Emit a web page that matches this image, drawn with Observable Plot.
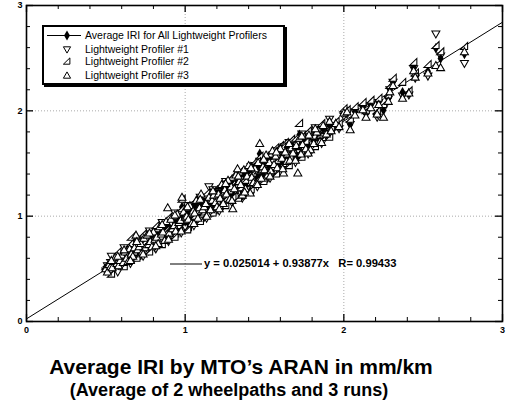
<!DOCTYPE html>
<html><head><meta charset="utf-8">
<script src="https://cdn.jsdelivr.net/npm/d3@7"></script>
<script src="https://cdn.jsdelivr.net/npm/@observablehq/plot@0.6"></script>
<style>
body{margin:0;background:#fff;font-family:Arial,"Liberation Sans",sans-serif;}
#wrap{position:relative;width:508px;height:408px;overflow:hidden;}
#chart{position:absolute;left:0;top:0;}
#legend{position:absolute;left:42px;top:25px;width:239px;height:56px;border:2px solid #000;box-shadow:2px 2px 0 #000;background:#fff;}
.row{position:absolute;left:0;height:13px;font-size:10.5px;line-height:13px;white-space:nowrap;}
.row svg{position:absolute;left:0;top:0;}
.row span{position:absolute;left:41px;top:0;}
#eq{position:absolute;left:170px;top:257px;font-size:11.2px;font-weight:bold;white-space:nowrap;}
#title{position:absolute;left:0;width:482px;top:355px;text-align:center;font-weight:bold;font-size:21px;white-space:nowrap;}
#subtitle{position:absolute;left:0;width:458px;top:380px;text-align:center;font-weight:bold;font-size:18px;white-space:nowrap;}
</style></head><body>
<div id="wrap">
<div id="chart"></div>
<div id="legend"></div>
<div id="eq"></div>
<div id="title"></div>
<div id="subtitle"></div>
</div>
<script>
// ARAN IRI (x) and the three lightweight profilers (y), mm/km
const aran = [0.50,0.51,0.52,0.53,0.54,0.55,0.56,0.57,0.58,0.59,0.60,0.61,0.62,0.63,0.64,0.65,0.66,0.67,0.68,0.69,
0.70,0.71,0.72,0.73,0.74,0.75,0.76,0.77,0.78,0.79,0.80,0.81,0.82,0.83,0.84,0.85,0.86,0.87,0.88,0.89,
0.90,0.91,0.92,0.93,0.94,0.95,0.96,0.97,0.98,0.99,1.00,1.01,1.02,1.03,1.04,1.05,1.06,1.07,1.08,1.09,
1.10,1.11,1.12,1.13,1.14,1.15,1.16,1.17,1.18,1.19,1.20,1.21,1.22,1.23,1.24,1.25,1.26,1.27,1.28,1.29,
1.30,1.31,1.32,1.33,1.34,1.35,1.36,1.37,1.38,1.39,1.40,1.41,1.42,1.43,1.44,1.45,1.46,1.47,1.48,1.49,
1.50,1.51,1.52,1.53,1.54,1.55,1.56,1.57,1.58,1.60,1.61,1.62,1.63,1.64,1.65,1.66,1.67,1.68,1.70,1.71,
1.72,1.73,1.74,1.76,1.78,1.79,1.81,1.83,1.85,1.87,1.89,1.92,1.95,1.97,2.00,2.02,2.04,2.07,2.12,2.14,
2.17,2.21,2.22,2.25,2.28,2.29,2.31,2.37,2.41,2.44,2.45,2.53,2.58,2.61,2.76,
0.535,0.575,0.615,0.655,0.695,0.735,0.775,0.815,0.855,0.895,0.935,0.975,1.015,1.055,1.095,1.135,1.175,1.215,
1.255,1.295,1.335,1.375,1.415,1.455,1.495,1.535,1.575,1.615,1.655,1.695,1.735,1.775,1.82,1.86,1.91];
const lp1 = [0.48,0.53,0.50,0.56,0.47,0.55,0.52,0.59,0.51,0.61,0.56,0.62,0.54,0.65,0.59,0.64,0.61,0.68,0.60,0.70,
0.66,0.73,0.63,0.76,0.69,0.72,0.78,0.67,0.81,0.74,0.79,0.70,0.84,0.77,0.86,0.75,0.88,0.80,0.91,0.82,
0.87,0.93,0.81,0.95,0.88,0.97,0.86,1.01,0.92,0.98,0.90,1.04,0.94,1.07,0.97,1.09,0.96,1.11,1.00,1.13,
1.03,1.10,0.99,1.16,1.05,1.28,1.08,1.19,1.10,1.22,1.06,1.24,1.13,1.26,1.15,1.29,1.12,1.31,1.19,1.33,
1.20,1.23,1.36,1.25,1.38,1.22,1.17,1.40,1.29,1.43,1.32,1.25,1.44,1.35,1.48,1.30,1.47,1.52,1.38,1.50,
1.41,1.54,1.36,1.56,1.45,1.58,1.42,1.61,1.48,1.62,1.51,1.55,1.66,1.54,1.60,1.50,1.69,1.58,1.65,1.62,
1.70,1.57,1.72,1.66,1.75,1.61,1.71,1.78,1.73,1.83,1.76,1.79,1.86,1.83,1.95,1.97,1.87,1.99,2.03,1.97,
2.05,1.94,2.08,2.02,2.11,2.20,2.27,2.14,2.15,2.40,2.31,2.33,2.73,2.52,2.45,
0.62,0.47,0.70,0.55,0.78,0.62,0.86,0.69,0.94,0.76,1.03,0.84,1.10,0.91,1.18,0.98,1.25,1.05,
1.33,1.13,1.40,1.20,1.47,1.28,1.55,1.36,1.62,1.43,1.70,1.51,1.78,1.59,1.84,1.69,1.92];
const lp2 = [0.52,0.55,0.49,0.58,0.53,0.60,0.56,0.54,0.57,0.64,0.59,0.58,0.61,0.68,0.63,0.60,0.80,0.71,0.66,0.73,
0.62,0.77,0.69,0.72,0.75,0.80,0.74,0.71,0.84,0.78,0.73,0.76,0.88,0.82,0.79,0.81,0.92,0.85,0.87,0.86,
0.94,0.89,0.85,1.00,0.83,0.93,0.91,1.05,1.16,0.95,0.96,1.08,0.89,1.02,1.03,1.13,1.00,1.06,1.05,1.17,
1.08,1.02,1.04,1.20,1.11,1.14,1.03,1.23,1.15,1.18,1.12,1.28,1.09,1.21,1.20,1.33,1.17,1.26,1.24,1.37,
1.18,1.29,1.31,1.30,1.42,1.27,1.22,1.35,1.34,1.47,1.39,1.24,1.40,1.41,1.52,1.34,1.43,1.57,1.44,1.55,
1.37,1.49,1.42,1.60,1.50,1.54,1.47,1.65,1.53,1.67,1.47,1.50,1.70,1.59,1.64,1.56,1.73,1.63,1.71,1.66,
1.88,1.61,1.76,1.71,1.80,1.66,1.76,1.82,1.77,1.79,1.81,1.84,1.90,1.88,2.02,2.01,1.92,2.04,2.08,2.00,
2.10,2.00,2.12,2.06,2.15,2.24,2.31,2.27,2.19,2.46,2.36,2.44,2.62,2.56,2.61,
0.45,0.66,0.52,0.74,0.60,0.83,0.66,0.91,0.73,0.99,0.80,1.07,0.87,1.14,0.95,1.22,1.03,1.29,
1.10,1.37,1.17,1.44,1.25,1.52,1.33,1.59,1.40,1.66,1.48,1.74,1.56,1.81,1.66,1.88,1.75];
const lp3 = [0.50,0.47,0.54,0.52,0.51,0.57,0.61,0.55,0.53,0.58,0.63,0.56,0.66,0.60,0.57,0.69,0.64,0.62,0.70,0.82,
0.68,0.71,0.74,0.66,0.79,0.70,0.82,0.73,0.76,0.71,0.85,0.78,0.80,0.74,0.90,0.83,0.85,0.77,0.95,1.08,
0.84,0.97,0.88,0.91,0.86,1.02,0.94,0.96,1.18,1.04,0.99,1.00,0.97,1.10,0.93,1.05,1.03,1.15,0.98,1.08,
1.21,1.06,1.09,1.12,1.02,1.18,1.06,1.15,1.20,1.13,1.09,1.21,1.17,1.30,1.12,1.25,1.21,1.34,1.16,1.28,
1.07,1.26,1.39,1.45,1.33,1.30,1.20,1.44,1.26,1.38,1.48,1.22,1.37,1.32,1.45,1.31,1.51,1.69,1.36,1.47,
1.44,1.58,1.39,1.51,1.43,1.62,1.49,1.57,1.46,1.64,1.55,1.41,1.61,1.52,1.68,1.53,1.65,1.60,1.67,1.41,
1.74,1.59,1.68,1.64,1.77,1.63,1.69,1.80,1.71,1.86,1.78,1.81,1.88,1.85,1.98,1.99,1.82,1.96,2.01,1.94,
2.03,1.97,2.06,1.94,2.09,2.18,2.24,2.12,2.17,2.38,2.32,2.36,2.43,2.41,2.56,
0.58,0.62,0.68,0.58,0.76,0.64,0.84,0.72,0.92,0.78,1.01,0.86,1.09,0.93,1.16,1.00,1.24,1.07,
1.31,1.15,1.38,1.23,1.46,1.30,1.54,1.38,1.61,1.45,1.69,1.53,1.76,1.60,1.83,1.70,1.90];
const avg = aran.map((_, i) => (lp1[i] + lp2[i] + lp3[i]) / 3);

const fitIntercept = 0.025014, fitSlope = 0.93877, fitR = 0.99433;
const fitRange = [0, 3];
const majorTicks = [0, 1, 2, 3];
const minorTicks = [0.2,0.4,0.6,0.8,1.2,1.4,1.6,1.8,2.2,2.4,2.6,2.8];
const gridTicks = [1, 2];
const legendLabels = ["Average IRI for All Lightweight Profilers","Lightweight Profiler #1","Lightweight Profiler #2","Lightweight Profiler #3"];
const titleText = "Average IRI by MTO\u2019s ARAN in mm/km";
const subtitleText = "(Average of 2 wheelpaths and 3 runs)";

const W = 508, H = 340, mL = 26, mR = 6, mT = 5, mB = 19;
const pw = W - mL - mR, ph = H - mT - mB;

const rad = s => Math.sqrt(s / Math.PI);
const triDown = {draw(c, s){const r = rad(s); c.moveTo(-r, -0.75*r); c.lineTo(r, -0.75*r); c.lineTo(0, r); c.closePath();}};
const triUp = {draw(c, s){const r = rad(s); c.moveTo(0, -r); c.lineTo(r, 0.75*r); c.lineTo(-r, 0.75*r); c.closePath();}};
const triRight = {draw(c, s){const r = rad(s); c.moveTo(0.8*r, -r); c.lineTo(0.8*r, 0.75*r); c.lineTo(-r, 0.75*r); c.closePath();}};

const idx = d3.range(aran.length);
const symR = 4;
const chart = Plot.plot({
  width: W, height: H, marginLeft: mL, marginRight: mR, marginTop: mT, marginBottom: mB,
  x: {domain: [0, 3]}, y: {domain: [0, 3]},
  style: {fontFamily: "Arial, 'Liberation Sans', sans-serif", background: "#fff"},
  marks: [
    Plot.ruleX(gridTicks, {x: d => d, stroke: "#aaa", strokeDasharray: "1,2"}),
    Plot.ruleY(gridTicks, {y: d => d, stroke: "#aaa", strokeDasharray: "1,2"}),
    Plot.tickX(minorTicks, {x: d => d, insetTop: ph - 4, stroke: "#000"}),
    Plot.tickX(minorTicks, {x: d => d, insetBottom: ph - 4, stroke: "#000"}),
    Plot.tickY(minorTicks, {y: d => d, insetRight: pw - 4, stroke: "#000"}),
    Plot.tickY(minorTicks, {y: d => d, insetLeft: pw - 4, stroke: "#000"}),
    Plot.tickX(majorTicks, {x: d => d, insetTop: ph - 7, stroke: "#000", strokeWidth: 1.3}),
    Plot.tickX(majorTicks, {x: d => d, insetBottom: ph - 7, stroke: "#000", strokeWidth: 1.3}),
    Plot.tickY(majorTicks, {y: d => d, insetRight: pw - 7, stroke: "#000", strokeWidth: 1.3}),
    Plot.tickY(majorTicks, {y: d => d, insetLeft: pw - 7, stroke: "#000", strokeWidth: 1.3}),
    Plot.line(fitRange, {x: d => d, y: d => fitIntercept + fitSlope * d, stroke: "#000", strokeWidth: 1}),
    Plot.dot(idx, {x: i => aran[i], y: i => lp1[i], symbol: triDown, r: symR, stroke: "#000", strokeWidth: 1.05, fill: "#fff"}),
    Plot.dot(idx, {x: i => aran[i], y: i => avg[i], symbol: "diamond", r: 3.2, fill: "#000", stroke: "none"}),
    Plot.dot(idx, {x: i => aran[i], y: i => lp2[i], symbol: triRight, r: symR, stroke: "#000", strokeWidth: 1.05, fill: "#fff"}),
    Plot.dot(idx, {x: i => aran[i], y: i => lp3[i], symbol: triUp, r: symR, stroke: "#000", strokeWidth: 1.05, fill: "#fff"}),
    Plot.frame({stroke: "#000", strokeWidth: 1.6}),
    Plot.axisX(majorTicks, {tickSize: 0, tickPadding: 5, fontWeight: "bold", fontSize: 9, fill: "#000", tickFormat: d => String(d)}),
    Plot.axisY(majorTicks, {tickSize: 0, tickPadding: 4, fontWeight: "bold", fontSize: 9, fill: "#000", tickFormat: d => String(d)})
  ]
});
document.getElementById("chart").appendChild(chart);

// legend
const leg = document.getElementById("legend");
const rowTops = [2, 16, 28, 42];
const symPaths = [null, triDown, triRight, triUp];
legendLabels.forEach((lab, k) => {
  const row = document.createElement("div");
  row.className = "row"; row.style.top = rowTops[k] + "px";
  const svg = d3.create("svg").attr("width", 40).attr("height", 13);
  if (k === 0) {
    svg.append("line").attr("x1", 3).attr("x2", 37).attr("y1", 6.5).attr("y2", 6.5).attr("stroke", "#000");
    svg.append("path").attr("d", d3.symbol(d3.symbolDiamond, 30)()).attr("transform", "translate(23,6.5)").attr("fill", "#000");
  } else {
    const p = d3.path(); symPaths[k].draw(p, 3.6 * 3.6 * Math.PI);
    svg.append("path").attr("d", p.toString()).attr("transform", "translate(23,6.5)").attr("fill", "none").attr("stroke", "#000").attr("stroke-width", 1);
  }
  row.appendChild(svg.node());
  const sp = document.createElement("span"); sp.textContent = lab; row.appendChild(sp);
  leg.appendChild(row);
});

// equation label
const eq = document.getElementById("eq");
const esvg = d3.create("svg").attr("width", 34).attr("height", 14).style("vertical-align", "middle");
esvg.append("line").attr("x1", 0).attr("x2", 32).attr("y1", 7).attr("y2", 7).attr("stroke", "#000");
eq.appendChild(esvg.node());
const et = document.createElement("span");
et.textContent = "y = " + fitIntercept + " + " + fitSlope + "x\u00a0\u00a0\u00a0R= " + fitR;
eq.appendChild(et);

document.getElementById("title").textContent = titleText;
document.getElementById("subtitle").textContent = subtitleText;
</script>
</body></html>
